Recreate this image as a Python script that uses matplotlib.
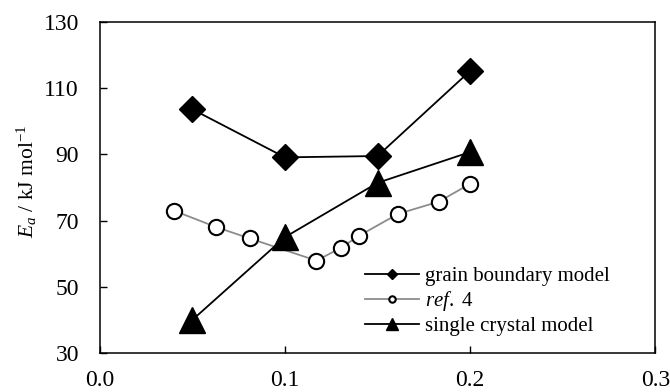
import matplotlib
matplotlib.use('Agg')
import matplotlib.pyplot as plt

plt.rcParams['font.family'] = 'Liberation Serif'
plt.rcParams['mathtext.fontset'] = 'custom'
plt.rcParams['mathtext.rm'] = 'Liberation Serif'
plt.rcParams['mathtext.it'] = 'Liberation Serif:italic'

# grain boundary model
gb_x = [0.05, 0.10, 0.15, 0.20]
gb_y = [103.6, 89.1, 89.5, 115.2]

# ref. 4
ref_x = [0.040, 0.063, 0.081, 0.117, 0.130, 0.140, 0.161, 0.183, 0.200]
ref_y = [73.0, 68.0, 64.6, 57.9, 61.7, 65.4, 72.0, 75.7, 81.1]

# single crystal model
sc_x = [0.05, 0.10, 0.15, 0.20]
sc_y = [40.0, 65.0, 81.4, 90.7]

fig = plt.figure(figsize=(6.7, 3.92), dpi=100)
ax = fig.add_axes([0.149, 0.0995, 0.829, 0.8445])

ax.plot(gb_x, gb_y, color='black', lw=1.3, marker='D', ms=13,
        mfc='black', mec='black', label='grain boundary model', zorder=3)
ax.plot(ref_x, ref_y, color='#8c8c8c', lw=1.3, marker='o', ms=11,
        mfc='white', mec='black', mew=1.5, label=r'$\it{ref.}$ 4', zorder=2)
ax.plot(sc_x, sc_y, color='black', lw=1.3, marker='^', ms=19,
        mfc='black', mec='black', label='single crystal model', zorder=4)

ax.set_xlim(0, 0.3)
ax.set_ylim(30, 130)
ax.set_xticks([0.0, 0.1, 0.2, 0.3])
ax.set_xticklabels(['0.0', '0.1', '0.2', '0.3'])
ax.set_yticks([30, 50, 70, 90, 110, 130])
ax.tick_params(direction='in', length=5, width=1, labelsize=17)
ax.tick_params(axis='x', pad=12)
ax.tick_params(axis='y', pad=15)
for s in ax.spines.values():
    s.set_linewidth(1.1)

ax.set_ylabel(r'$E_a$ / kJ mol$^{-1}$', fontsize=15.5)
ax.yaxis.set_label_coords(-0.11, 0.52)

ax.legend(loc='lower right', bbox_to_anchor=(0.933, 0.026), frameon=False,
          fontsize=15, markerscale=0.42, handlelength=2.6,
          handletextpad=0.3, labelspacing=0.15, borderaxespad=0)

fig.savefig('out.png', dpi=100)
